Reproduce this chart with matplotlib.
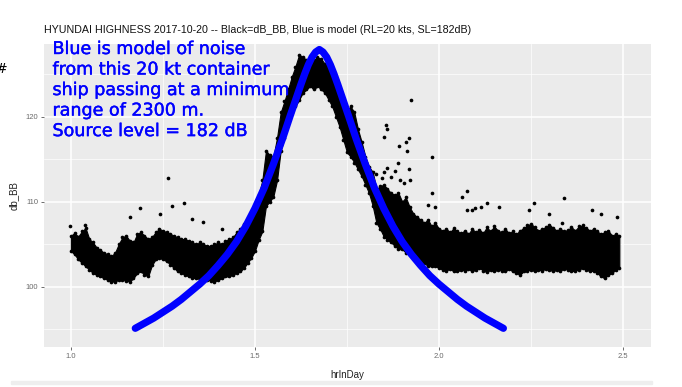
import matplotlib
matplotlib.use("Agg")
import matplotlib.pyplot as plt
import matplotlib.patheffects as pe
from matplotlib.patches import Rectangle
from matplotlib.ticker import MultipleLocator

TITLE = "HYUNDAI HIGHNESS 2017-10-20 -- Black=dB_BB, Blue is model (RL=20 kts, SL=182dB)"
NOTE = ("Blue is model of noise\nfrom this 20 kt container\nship passing at a minimum\n"
        "range of 2300 m.\nSource level = 182 dB")

# measured dB_BB cloud: lower / upper edge of the dense band per hour step
band_x = [
    1.00, 1.01, 1.02, 1.03, 1.04, 1.05, 1.06, 1.07, 1.08, 1.09,
    1.10, 1.11, 1.12, 1.13, 1.14, 1.15, 1.16, 1.17, 1.18, 1.19,
    1.20, 1.21, 1.22, 1.23, 1.24, 1.25, 1.26, 1.27, 1.28, 1.29,
    1.30, 1.31, 1.32, 1.33, 1.34, 1.35, 1.36, 1.37, 1.38, 1.39,
    1.40, 1.41, 1.42, 1.43, 1.44, 1.45, 1.46, 1.47, 1.48, 1.49,
    1.50, 1.51, 1.52, 1.53, 1.54, 1.55, 1.56, 1.57, 1.58, 1.59,
    1.60, 1.61, 1.62, 1.63, 1.64, 1.65, 1.66, 1.67, 1.68, 1.69,
    1.70, 1.71, 1.72, 1.73, 1.74, 1.75, 1.76, 1.77, 1.78, 1.79,
    1.80, 1.81, 1.82, 1.83, 1.84, 1.85, 1.86, 1.87, 1.88, 1.89,
    1.90, 1.91, 1.92, 1.93, 1.94, 1.95, 1.96, 1.97, 1.98, 1.99,
    2.00, 2.01, 2.02, 2.03, 2.04, 2.05, 2.06, 2.07, 2.08, 2.09,
    2.10, 2.11, 2.12, 2.13, 2.14, 2.15, 2.16, 2.17, 2.18, 2.19,
    2.20, 2.21, 2.22, 2.23, 2.24, 2.25, 2.26, 2.27, 2.28, 2.29,
    2.30, 2.31, 2.32, 2.33, 2.34, 2.35, 2.36, 2.37, 2.38, 2.39,
    2.40, 2.41, 2.42, 2.43, 2.44, 2.45, 2.46, 2.47, 2.48, 2.49,
]
band_lo = [
    104.2, 103.8, 103.2, 102.8, 102.4, 102.0, 101.6, 101.4, 101.2, 101.0,
    100.8, 100.6, 100.6, 100.8, 100.8, 100.7, 100.6, 101.0, 101.6, 101.8,
    101.4, 101.2, 102.5, 103.2, 103.4, 103.2, 103.0, 102.6, 102.2, 101.8,
    101.6, 101.4, 101.2, 101.0, 101.0, 100.9, 100.8, 100.8, 100.7, 100.6,
    100.8, 101.0, 101.2, 101.2, 101.4, 101.6, 101.8, 102.2, 102.8, 103.4,
    104.2, 105.5, 106.5, 109.5, 110.0, 110.6, 112.5, 116.0, 117.5, 119.3,
    120.5, 121.2, 122.0, 122.8, 123.2, 123.6, 123.2, 123.6, 123.2, 122.8,
    122.0, 121.2, 120.0, 118.8, 117.3, 115.8, 115.3, 114.6, 113.8, 113.0,
    112.0, 111.0, 109.5, 107.5, 106.8, 105.9, 105.5, 105.2, 104.8, 104.4,
    104.4, 104.0, 103.8, 103.5, 103.2, 102.8, 102.8, 102.4, 102.4, 102.4,
    102.2, 102.0, 101.9, 102.1, 101.8, 101.8, 102.0, 101.9, 102.1, 101.8,
    102.0, 102.2, 101.9, 101.7, 102.0, 101.8, 102.0, 101.9, 101.8, 102.1,
    101.8, 101.6, 101.4, 101.8, 101.9, 102.0, 101.8, 102.0, 101.9, 102.1,
    102.0, 101.8, 102.0, 101.9, 102.1, 102.0, 101.8, 101.9, 102.0, 102.2,
    102.0, 101.8, 101.9, 101.6, 101.2, 101.0, 101.4, 101.6, 102.0, 102.2,
]
band_hi = [
    106.0, 106.3, 105.9, 106.5, 106.9, 105.6, 105.2, 104.6, 104.3, 104.0,
    103.8, 103.6, 104.0, 105.0, 105.8, 106.0, 105.4, 105.2, 106.2, 106.4,
    106.0, 105.6, 105.8, 106.4, 106.8, 106.6, 106.4, 106.2, 106.0, 105.8,
    105.6, 105.6, 105.4, 105.2, 105.0, 105.2, 105.0, 104.8, 104.8, 105.0,
    105.2, 105.0, 105.4, 105.6, 105.8, 106.4, 106.8, 107.4, 107.8, 108.4,
    109.4, 110.8, 112.5, 116.0, 115.5, 115.3, 117.5, 120.5, 121.8, 123.2,
    124.7, 125.9, 127.3, 127.0, 126.7, 126.2, 126.7, 127.0, 126.8, 126.2,
    125.9, 125.2, 124.0, 122.8, 121.6, 120.8, 121.2, 120.5, 118.5, 117.0,
    115.3, 114.1, 113.5, 111.5, 111.8, 112.0, 111.5, 111.0, 110.8, 111.0,
    110.0, 110.5, 109.4, 108.6, 108.2, 107.9, 107.5, 107.9, 107.1, 107.5,
    106.8, 106.6, 106.8, 106.4, 106.9, 106.5, 106.3, 106.6, 106.2, 106.8,
    106.4, 106.7, 106.3, 107.0, 106.5, 107.1, 106.6, 106.4, 106.8, 106.3,
    106.5, 106.2, 106.6, 106.9, 107.2, 107.4, 107.0, 106.6, 106.8, 107.0,
    107.3, 106.9, 106.6, 106.8, 106.5, 106.7, 107.0, 106.6, 107.1, 107.2,
    106.9, 106.6, 106.8, 106.5, 106.2, 106.4, 106.6, 106.0, 106.2, 106.0,
]

# isolated points outside the dense band
stray_x = [0.997, 1.038, 1.16, 1.187, 1.242, 1.263, 1.275, 1.306, 1.33, 1.358, 1.41,
           1.83, 1.845, 1.85, 1.86, 1.87, 1.88, 1.89, 1.895, 1.905, 1.91, 1.913, 1.918,
           1.92, 1.851, 1.856, 1.859, 1.892, 1.919, 1.924, 1.981, 1.981, 1.99, 1.97,
           2.063, 2.076, 2.076, 2.097, 2.09, 2.114, 2.13, 2.163, 2.244, 2.257, 2.30,
           2.333, 2.339, 2.415, 2.44, 2.483]
stray_y = [107.1, 107.3, 108.2, 109.2, 108.6, 112.8, 109.5, 109.8, 108.0, 107.6, 106.8,
           113.2, 112.8, 113.5, 114.0, 112.9, 113.6, 114.5, 112.5, 112.2, 117.0, 116.0, 113.8,
           112.6, 117.6, 119.0, 118.5, 116.5, 117.5, 122.0, 115.3, 111.0, 109.4, 109.6,
           110.5, 111.2, 109.0, 109.3, 109.0, 109.4, 109.9, 109.4, 109.0, 109.8, 108.5,
           107.5, 110.4, 109.0, 108.6, 108.2]

# model received level (blue)
model_x = [1.175, 1.20, 1.225, 1.25, 1.275, 1.30, 1.325, 1.35, 1.375, 1.40, 1.425, 1.45,
           1.475, 1.50, 1.525, 1.55, 1.575, 1.595, 1.61, 1.625, 1.635, 1.645, 1.655, 1.665,
           1.675, 1.685, 1.695, 1.705, 1.715, 1.725, 1.74, 1.755, 1.775, 1.80, 1.825, 1.85,
           1.875, 1.90, 1.925, 1.95, 1.975, 2.00, 2.025, 2.05, 2.075, 2.10, 2.125, 2.15, 2.175]
model_y = [95.1, 95.7, 96.3, 97.0, 97.7, 98.5, 99.4, 100.3, 101.3, 102.5, 103.8, 105.3,
           107.1, 109.2, 111.6, 114.4, 117.4, 120.0, 121.9, 123.8, 125.0, 126.1, 127.0, 127.6,
           127.9, 127.6, 127.0, 126.1, 125.0, 123.8, 121.9, 120.0, 117.4, 114.4, 111.6, 109.2,
           107.1, 105.3, 103.8, 102.5, 101.3, 100.3, 99.4, 98.5, 97.7, 97.0, 96.3, 95.7, 95.1]

X_TICKS = [1.0, 1.5, 2.0, 2.5]
Y_TICKS = [100, 110, 120]

fig = plt.figure(figsize=(6.82, 3.87), dpi=100)
fig.patch.set_facecolor("white")
ax = fig.add_axes([44 / 682, 1 - 347 / 387, 607 / 682, 303 / 387])
ax.set_facecolor("#EBEBEB")
for s in ax.spines.values():
    s.set_visible(False)

ax.set_xlim(0.927, 2.576)
ax.set_ylim(92.9, 128.55)
ax.set_xticks(X_TICKS)
ax.set_xticklabels([f"{v:.1f}" for v in X_TICKS])
ax.set_yticks(Y_TICKS)
ax.xaxis.set_minor_locator(MultipleLocator(0.25))
ax.yaxis.set_minor_locator(MultipleLocator(5))
ax.grid(which="major", color="white", linewidth=1.1)
ax.grid(which="minor", color="white", linewidth=0.5)
ax.set_axisbelow(True)
ax.tick_params(which="major", length=2.2, width=0.5, color="#333333",
               labelsize=5.5, labelcolor="#6a6a6a", pad=2)
ax.tick_params(which="minor", length=0)
for lab in ax.get_xticklabels() + ax.get_yticklabels():
    lab.set_family("Liberation Sans")

ax.fill_between(band_x, band_lo, band_hi, color="black", linewidth=0.8, zorder=2)
ax.scatter(band_x, band_lo, s=7, color="black", linewidths=0, zorder=2)
ax.scatter(band_x, band_hi, s=7, color="black", linewidths=0, zorder=2)
ax.scatter(stray_x, stray_y, s=7, color="black", linewidths=0, zorder=2)

ax.plot(model_x, model_y, color="#0000FF", linewidth=5.2, solid_capstyle="round",
        solid_joinstyle="round", zorder=3)

ax.set_xlabel("hrInDay", family="Liberation Sans", fontsize=7, color="#222222")
ax.set_ylabel("db_BB", family="Liberation Sans", fontsize=7, color="#222222")
ax.xaxis.set_label_coords(0.5, -0.076)
ax.yaxis.set_label_coords(-0.041, 0.5)

ax.text(52.5 / 682, 1 - 40 / 387, NOTE, transform=fig.transFigure, ha="left", va="top",
        color="#0000FF", fontsize=12.6, family="DejaVu Sans", linespacing=1.18, zorder=4,
        path_effects=[pe.withStroke(linewidth=0.3, foreground="#0000FF")])

fig.text(44 / 682, 1 - 30 / 387, TITLE, ha="left", va="center", fontsize=7.7,
         family="Liberation Sans", color="#111111")
fig.text(0.002, 1 - 69 / 387, "#", ha="center", va="center", fontsize=10,
         family="DejaVu Sans", color="black")
fig.patches.append(Rectangle((11 / 682, 1 - 384 / 387), 641 / 682, 3 / 387,
                             transform=fig.transFigure, color="#EEEEEE", zorder=0))

fig.savefig("out.png", dpi=100)
